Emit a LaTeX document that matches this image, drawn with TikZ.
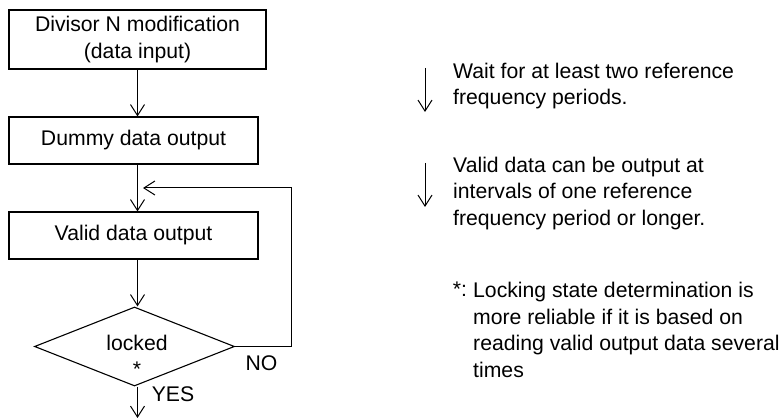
\documentclass[tikz,border=0pt]{standalone}
\usepackage{fontspec}
\setmainfont{Liberation Sans}
\usetikzlibrary{arrows.meta,shapes.geometric}
\begin{document}
\begin{tikzpicture}[x=1pt,y=-1pt,
  every node/.style={font=\fontsize{21.2}{26.7}\selectfont, inner sep=0pt},
  box/.style={draw, line width=1.1pt},
  dia/.style={diamond, draw, line width=1.1pt, inner sep=0pt, aspect=2.5},
  arr/.style={line width=1pt, -{Straight Barb[length=11pt,width=14pt]}},
  note/.style={align=left, anchor=north west}]
\useasboundingbox (0,0) rectangle (782,419);
% flow chart
\node[box, minimum width=257pt, minimum height=59pt, align=center] (b1) at (137.5,39.5) {Divisor N modification\\(data input)};
\node[box, minimum width=249pt, minimum height=47pt] (b2) at (133.5,140.5) {Dummy data output};
\node[box, minimum width=249pt, minimum height=47pt] (b3) at (133.5,235.5) {Valid data output};
\node[dia, minimum width=200pt, minimum height=79pt] (d) at (134.5,346.5) {};
\node[anchor=base] (lk) at (137,351) {locked};
\node[anchor=base] (st) at (137,377) {*};
\node[anchor=base] (no) at (261.5,371) {NO};
\node[anchor=base] (yes) at (173,402) {YES};
\coordinate (fb) at (143,188);
\coordinate (out) at (137.5,418);
\draw[arr] (b1.south) -- (b1.south |- b2.north);
\draw[arr] (b2.south -| b1.south) -- (b3.north -| b1.south);
\draw[arr] (b3.south -| b1.south) -- (d.north -| b1.south);
\draw[arr] (d.south -| b1.south) -- (out);
\draw[arr] (d.east) -- ++(56,0) |- (fb);
% notes
\coordinate (a1s) at (425,68);
\coordinate (a1e) at (425,112);
\coordinate (a2s) at (425,163);
\coordinate (a2e) at (425,207);
\draw[arr] (a1s) -- (a1e);
\draw[arr] (a2s) -- (a2e);
\node[note] (n1) at (453,62.7) {Wait for at least two reference\\frequency periods.};
\node[note] (n2) at (453,156.7) {Valid data can be output at\\intervals of one reference\\frequency period or longer.};
\node[note] (fn) at (473,282) {Locking state determination is\\more reliable if it is based on\\reading valid output data several\\times};
\node[anchor=north east, xshift=-5.8pt] (fs) at (fn.north west) {*:};
\end{tikzpicture}
\end{document}
